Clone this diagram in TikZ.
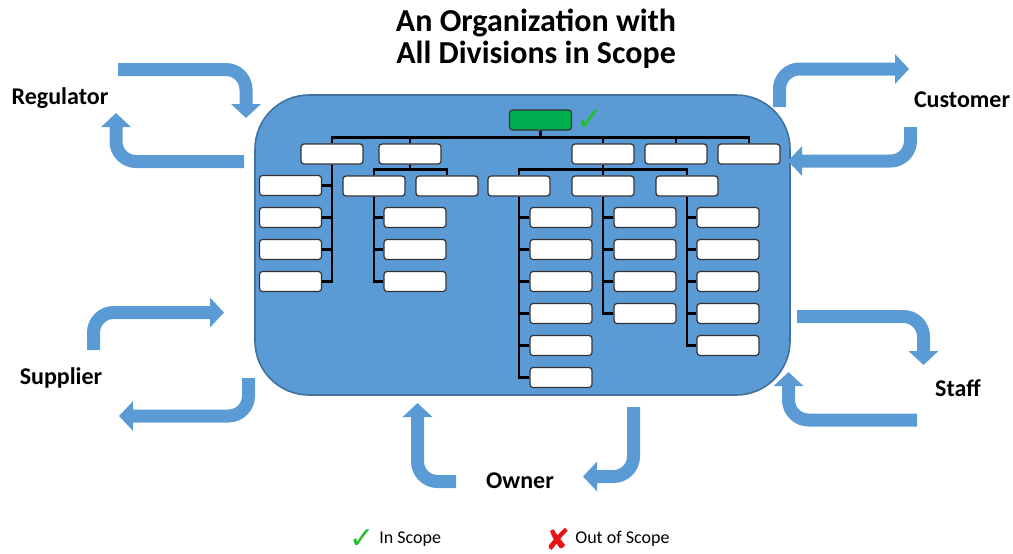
\documentclass[tikz,border=0pt]{standalone}
\usepackage{fontspec}
\setmainfont{Carlito}
\newfontfamily\symbolfont{DejaVu Sans}
\usetikzlibrary{arrows.meta,positioning}
\definecolor{scopeblue}{HTML}{5B9BD5}
\definecolor{scopeedge}{HTML}{41719C}
\definecolor{headgreen}{HTML}{00B050}
\definecolor{tickgreen}{RGB}{34,190,40}
\definecolor{crossred}{RGB}{230,20,20}

\begin{document}
\begin{tikzpicture}[x=0.5pt,y=-0.5pt,
  unit/.style={draw=black!80, fill=white, rounded corners=1.5pt, minimum width=31pt,
               minimum height=10pt, inner sep=0pt, line width=0.6pt},
  link/.style={line width=1.4pt, black},
  flow/.style={draw=scopeblue, line width=6.5pt, rounded corners=10pt,
               -{Triangle[length=7pt,width=14.5pt]}},
  party/.style={font=\bfseries\fontsize{12}{14}\selectfont},
  legend/.style={font=\fontsize{9}{11}\selectfont, inner sep=1pt},
  glyph/.style={font=\symbolfont\fontsize{15}{15}\selectfont, inner sep=0pt}
]
  \useasboundingbox (0,0) rectangle (1013,553);

  % Title
  \node[font=\bfseries\fontsize{16}{16}\selectfont, align=center] (title) at (536,39)
    {An Organization with\\All Divisions in Scope};

  % Organization frame
  \node[draw=scopeedge, fill=scopeblue, line width=0.8pt, rounded corners=27pt,
        minimum width=267.5pt, minimum height=150pt, inner sep=0pt] (org) at (522.5,245) {};

  % Head of the organization
  \node[unit, fill=headgreen] (head) at (540.5,120) {};
  \node[glyph, text=tickgreen, font=\symbolfont\fontsize{16}{16}\selectfont,
        right=2pt of head] (headtick) {✓};

  % Divisions
  \foreach \n/\x in {a/332,b/410,c/603,d/676,e/749}
    \node[unit] (\n) at (\x,154) {};
  \foreach \n in {a,b,c,d,e}
    \draw[link] (head.south) -- ++(0,7) -| (\n.north);

  % Division a
  \foreach \i in {1,...,4} {
    \node[unit] (a\i) at (290.5,153.5+32*\i) {};
    \draw[link] (a.south) |- (a\i.east);
  }

  % Division b
  \foreach \n/\x in {b1/374,b2/447} {
    \node[unit] (\n) at (\x,186) {};
    \draw[link] (b.south) -- ++(0,5) -| (\n.north);
  }
  \foreach \i in {1,2,3} {
    \node[unit] (b1\i) at (415,185.5+32*\i) {};
    \draw[link] (b1.south) |- (b1\i.west);
  }

  % Division c
  \foreach \n/\x in {c1/519,c2/603,c3/687} {
    \node[unit] (\n) at (\x,186) {};
    \draw[link] (c.south) -- ++(0,5) -| (\n.north);
  }
  \foreach \n/\x/\k in {c1/561/6,c2/645/4,c3/728/5}
    \foreach \i in {1,...,\k} {
      \node[unit] (\n\i) at (\x,185.5+32*\i) {};
      \draw[link] (\n.south) |- (\n\i.west);
    }

  % Parties around the organization
  \node[party] (regulator) at (60,98) {Regulator};
  \node[party] (customer) at (962,100) {Customer};
  \node[party] (supplier) at (61,378) {Supplier};
  \node[party] (staff) at (958,388) {Staff};
  \node[party] (owner) at (520,481) {Owner};

  % Flow ends
  \coordinate (reg-in-s) at (118,69.5);   \coordinate (reg-in-t) at (246,118);
  \coordinate (reg-out-s) at (244,161.5); \coordinate (reg-out-t) at (116,113);
  \coordinate (cus-out-s) at (779.5,107); \coordinate (cus-out-t) at (909,69);
  \coordinate (cus-in-s) at (910.5,127);  \coordinate (cus-in-t) at (788,161);
  \coordinate (sup-in-s) at (93.5,350);   \coordinate (sup-in-t) at (224,312.5);
  \coordinate (sup-out-s) at (248.5,378); \coordinate (sup-out-t) at (119,416);
  \coordinate (sta-out-s) at (797,316.5); \coordinate (sta-out-t) at (923.5,365);
  \coordinate (sta-in-s) at (917,420);    \coordinate (sta-in-t) at (788.5,372);
  \coordinate (own-in-s) at (456,481.5);  \coordinate (own-in-t) at (417.5,403);
  \coordinate (own-out-s) at (633.5,407); \coordinate (own-out-t) at (583,476.5);

  % Flows
  \draw[flow] (reg-in-s) -| (reg-in-t);
  \draw[flow] (reg-out-s) -| (reg-out-t);
  \draw[flow] (cus-out-s) |- (cus-out-t);
  \draw[flow] (cus-in-s) |- (cus-in-t);
  \draw[flow] (sup-in-s) |- (sup-in-t);
  \draw[flow] (sup-out-s) |- (sup-out-t);
  \draw[flow] (sta-out-s) -| (sta-out-t);
  \draw[flow] (sta-in-s) -| (sta-in-t);
  \draw[flow] (own-in-s) -| (own-in-t);
  \draw[flow] (own-out-s) |- (own-out-t);

  % Legend
  \node[glyph, text=tickgreen] (yes) at (362,539) {✓};
  \node[legend, right=1pt of yes] (inscope) {In Scope};
  \node[glyph, text=crossred] (no) at (558,539) {✘};
  \node[legend, right=1pt of no] (outscope) {Out of Scope};
\end{tikzpicture}
\end{document}
